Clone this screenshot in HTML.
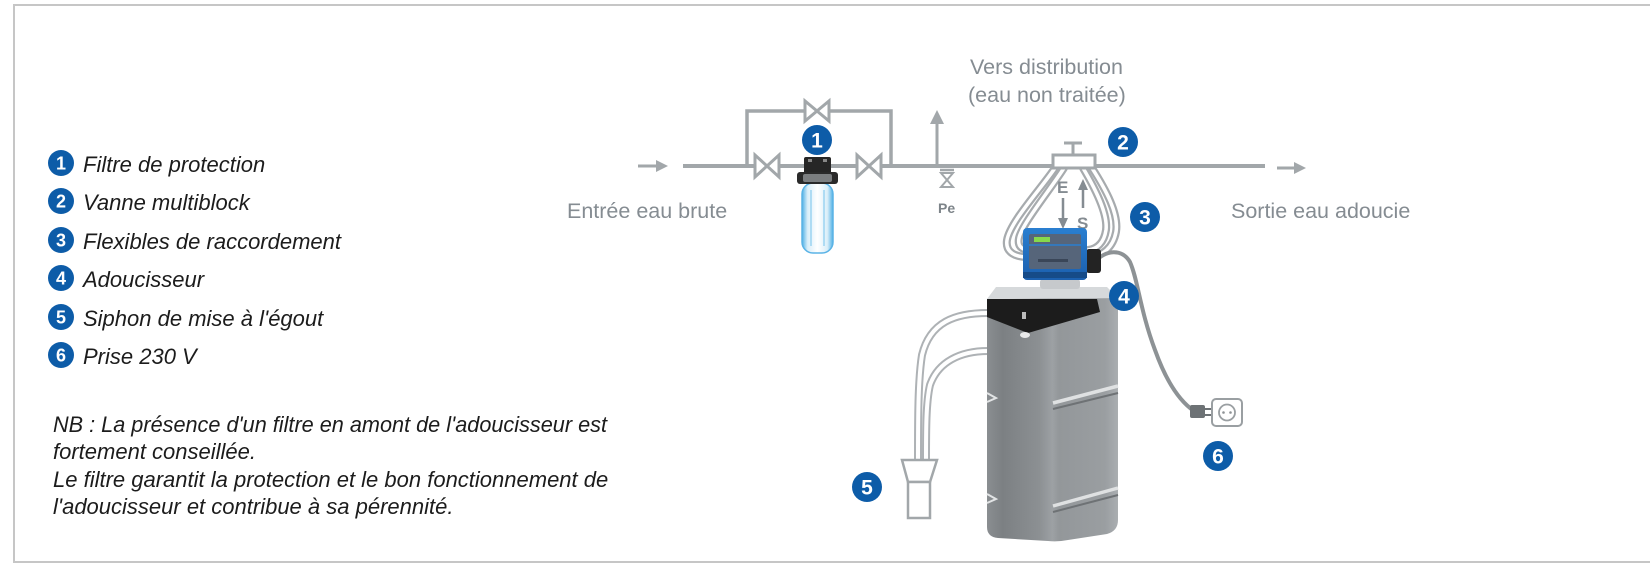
<!DOCTYPE html>
<html>
<head>
<meta charset="utf-8">
<style>
  html, body { margin:0; padding:0; background:#fff; }
  body { width:1650px; height:570px; overflow:hidden; position:relative; }
  svg { position:absolute; left:0; top:0; }
  text { font-family: "Liberation Sans", Arial, sans-serif; }
</style>
</head>
<body>
<svg width="1650" height="570" viewBox="0 0 1650 570" xmlns="http://www.w3.org/2000/svg">
  <defs>
    <linearGradient id="tankG" x1="0" y1="0" x2="1" y2="0">
      <stop offset="0" stop-color="#8a8e91"/>
      <stop offset="0.12" stop-color="#7c8083"/>
      <stop offset="0.4" stop-color="#8c9093"/>
      <stop offset="0.5" stop-color="#9da1a4"/>
      <stop offset="0.55" stop-color="#93979a"/>
      <stop offset="0.9" stop-color="#9a9ea1"/>
      <stop offset="1" stop-color="#aaaeb1"/>
    </linearGradient>
    <linearGradient id="filterG" x1="0" y1="0" x2="1" y2="0">
      <stop offset="0" stop-color="#4fb0e6"/>
      <stop offset="0.18" stop-color="#d9eef9"/>
      <stop offset="0.5" stop-color="#ffffff"/>
      <stop offset="0.82" stop-color="#d9eef9"/>
      <stop offset="1" stop-color="#4fb0e6"/>
    </linearGradient>
    <linearGradient id="headG" x1="0" y1="0" x2="0" y2="1">
      <stop offset="0" stop-color="#2a7fd0"/>
      <stop offset="1" stop-color="#1b5fae"/>
    </linearGradient>
  </defs>

  <!-- frame -->
  <rect x="14" y="5" width="1700" height="557" fill="none" stroke="#c6c6c6" stroke-width="2"/>

  <!-- ===== Legend ===== -->
  <g fill="#0d5ca8">
    <circle cx="61" cy="163" r="13"/>
    <circle cx="61" cy="201" r="13"/>
    <circle cx="61" cy="240" r="13"/>
    <circle cx="61" cy="278" r="13"/>
    <circle cx="61" cy="317" r="13"/>
    <circle cx="61" cy="355" r="13"/>
  </g>
  <g fill="#fff" font-weight="bold" font-size="18" text-anchor="middle">
    <text x="61" y="169.5">1</text>
    <text x="61" y="207.5">2</text>
    <text x="61" y="246.5">3</text>
    <text x="61" y="284.5">4</text>
    <text x="61" y="323.5">5</text>
    <text x="61" y="361.5">6</text>
  </g>
  <g fill="#1c1c1c" font-style="italic" font-size="22">
    <text x="83" y="172">Filtre de protection</text>
    <text x="83" y="210">Vanne multiblock</text>
    <text x="83" y="249">Flexibles de raccordement</text>
    <text x="83" y="287">Adoucisseur</text>
    <text x="83" y="326">Siphon de mise à l'égout</text>
    <text x="83" y="364">Prise 230 V</text>
  </g>
  <g fill="#1c1c1c" font-style="italic" font-size="22">
    <text x="53" y="432" textLength="554" lengthAdjust="spacingAndGlyphs">NB : La présence d'un filtre en amont de l'adoucisseur est</text>
    <text x="53" y="459">fortement conseillée.</text>
    <text x="53" y="487">Le filtre garantit la protection et le bon fonctionnement de</text>
    <text x="53" y="514">l'adoucisseur et contribue à sa pérennité.</text>
  </g>

  <!-- ===== Piping ===== -->
  <g stroke="#a2a7aa" fill="none">
    <line x1="638" y1="166" x2="658" y2="166" stroke-width="3"/>
    <line x1="683" y1="166" x2="1265" y2="166" stroke-width="4"/>
    <polyline points="747,166 747,111 891,111 891,166" stroke-width="3.5"/>
    <line x1="1277" y1="168" x2="1296" y2="168" stroke-width="3"/>
    <line x1="937" y1="166" x2="937" y2="122" stroke-width="3"/>
    <line x1="940" y1="170" x2="954" y2="170" stroke-width="2.5"/>
  </g>
  <g fill="#a2a7aa">
    <polygon points="656,160 668,166 656,172"/>
    <polygon points="1294,162 1306,168 1294,174"/>
    <polygon points="930,124 937,110 944,124"/>
  </g>
  <!-- valves -->
  <g fill="#fff" stroke="#a2a7aa" stroke-width="3" stroke-linejoin="miter">
    <polygon points="755,155 755,177 767,166"/>
    <polygon points="779,155 779,177 767,166"/>
    <polygon points="857,155 857,177 869,166"/>
    <polygon points="881,155 881,177 869,166"/>
    <polygon points="805,101 805,121 817,111"/>
    <polygon points="829,101 829,121 817,111"/>
    <polygon points="941,173 953,173 947,180" stroke-width="2"/>
    <polygon points="941,187 953,187 947,180" stroke-width="2"/>
  </g>

  <!-- Filter -->
  <rect x="802" y="183" width="31" height="70" rx="11" fill="url(#filterG)" stroke="#5ab3e6" stroke-width="1.5"/>
  <line x1="811" y1="190" x2="811" y2="246" stroke="#9bd3f1" stroke-width="1.5"/>
  <line x1="824" y1="190" x2="824" y2="246" stroke="#9bd3f1" stroke-width="1.5"/>
  <rect x="804" y="157" width="27" height="17" rx="2" fill="#262626"/>
  <rect x="797" y="172" width="41" height="12" rx="3" fill="#2a2a2a"/>
  <rect x="803" y="174" width="29" height="8" rx="2" fill="#7b7e80"/>
  <rect x="808" y="159" width="4" height="3" fill="#888"/>
  <rect x="823" y="159" width="4" height="3" fill="#888"/>

  <!-- labels -->
  <g fill="#858c92" font-size="21.5">
    <text x="567" y="218">Entrée eau brute</text>
    <text x="1231" y="218">Sortie eau adoucie</text>
    <text x="970" y="74">Vers distribution</text>
    <text x="968" y="102">(eau non traitée)</text>
  </g>
  <text x="938" y="213" fill="#7d8489" font-size="14" font-weight="bold">Pe</text>

  <!-- multiblock -->
  <line x1="1073" y1="143" x2="1073" y2="155" stroke="#a2a7aa" stroke-width="3"/>
  <line x1="1064" y1="143" x2="1082" y2="143" stroke="#a2a7aa" stroke-width="3"/>

  <!-- hoses (3) -->
  <g fill="none" stroke-linecap="round">
    <g stroke="#a7abae" stroke-width="8">
      <path d="M1055,168 C1040,190 1010,222 1007,240 C1005,253 1016,257 1028,257"/>
      <path d="M1064,168 C1050,190 1022,224 1019,238 C1017,248 1024,250 1030,250"/>
      <path d="M1092,168 C1106,190 1119,214 1116,232 C1113,248 1102,256 1090,257"/>
      <path d="M1083,168 C1096,190 1108,214 1106,230 C1104,243 1097,249 1088,250"/>
    </g>
    <g stroke="#ffffff" stroke-width="3.5">
      <path d="M1055,168 C1040,190 1010,222 1007,240 C1005,253 1016,257 1028,257"/>
      <path d="M1064,168 C1050,190 1022,224 1019,238 C1017,248 1024,250 1030,250"/>
      <path d="M1092,168 C1106,190 1119,214 1116,232 C1113,248 1102,256 1090,257"/>
      <path d="M1083,168 C1096,190 1108,214 1106,230 C1104,243 1097,249 1088,250"/>
    </g>
  </g>
  <rect x="1053" y="155" width="42" height="13" fill="#fff" stroke="#a2a7aa" stroke-width="3"/>

  <!-- E / S arrows -->
  <g fill="#858c92" font-size="17" font-weight="bold">
    <text x="1057" y="193">E</text>
    <text x="1077" y="229">S</text>
  </g>
  <line x1="1063" y1="198" x2="1063" y2="220" stroke="#858c92" stroke-width="2.5"/>
  <polygon points="1058,218 1068,218 1063,229" fill="#858c92"/>
  <line x1="1083" y1="208" x2="1083" y2="188" stroke="#858c92" stroke-width="2.5"/>
  <polygon points="1078,190 1088,190 1083,179" fill="#858c92"/>

  <!-- brine hoses (5) -->
  <g fill="none">
    <g stroke="#aeb2b5" stroke-width="8">
      <path d="M988,313 C955,313 930,322 922,355 C918,380 918,420 918,460"/>
      <path d="M988,351 C960,351 938,362 930,385 C926,402 926,430 926,460"/>
    </g>
    <g stroke="#ffffff" stroke-width="4">
      <path d="M988,313 C955,313 930,322 922,355 C918,380 918,420 918,460"/>
      <path d="M988,351 C960,351 938,362 930,385 C926,402 926,430 926,460"/>
    </g>
  </g>
  <!-- funnel -->
  <path d="M902,460 L937,460 L930,482 L908,482 Z" fill="#fff" stroke="#a2a7aa" stroke-width="2.5"/>
  <rect x="908" y="482" width="22" height="36" fill="#fff" stroke="#a2a7aa" stroke-width="2.5"/>

  <!-- tank -->
  <path d="M987,299 L1118,298 L1118,520 Q1118,531 1107,534 L1068,540 Q1058,542 1048,541 L998,538 Q987,537 987,527 Z" fill="url(#tankG)"/>
  <g fill="none">
    <path d="M1053,403 L1118,386" stroke="#dfe1e2" stroke-width="3.5"/>
    <path d="M1053,409 L1118,393" stroke="#6e7275" stroke-width="2"/>
    <path d="M1053,506 L1118,488" stroke="#dfe1e2" stroke-width="3.5"/>
    <path d="M1053,512 L1118,495" stroke="#6e7275" stroke-width="2"/>
    <path d="M987,393 L996,398 L987,402" stroke="#e2e4e5" stroke-width="2"/>
    <path d="M987,494 L996,499 L987,503" stroke="#e2e4e5" stroke-width="2"/>
  </g>
  <polygon points="996,287 1107,287 1118,298 987,299" fill="#d6d9db"/>
  <polygon points="987,299 1097,299 1100,312 1028,333 987,317" fill="#1c1c1c"/>
  <ellipse cx="1025" cy="335" rx="5" ry="3" fill="#e9eaeb"/>
  <rect x="1022" y="312" width="4" height="7" fill="#bbbbbb"/>

  <!-- power cable -->
  <path d="M1095,262 C1105,250 1122,248 1130,262 C1138,280 1140,310 1155,350 C1165,378 1178,400 1194,411" fill="none" stroke="#8d9295" stroke-width="4"/>
  <rect x="1190" y="405" width="15" height="13" rx="2" fill="#6d7275"/>
  <line x1="1205" y1="409" x2="1212" y2="409" stroke="#6d7275" stroke-width="2"/>
  <line x1="1205" y1="415" x2="1212" y2="415" stroke="#6d7275" stroke-width="2"/>
  <rect x="1212" y="399" width="30" height="27" rx="4" fill="#fff" stroke="#9a9fa2" stroke-width="2"/>
  <circle cx="1227" cy="412.5" r="8" fill="none" stroke="#9a9fa2" stroke-width="1.8"/>
  <circle cx="1223.5" cy="412.5" r="1.3" fill="#8d9295"/>
  <circle cx="1230.5" cy="412.5" r="1.3" fill="#8d9295"/>

  <!-- control head -->
  <rect x="1040" y="279" width="40" height="10" rx="3" fill="#c6c9cc"/>
  <rect x="1086" y="249" width="15" height="24" rx="3" fill="#232323"/>
  <rect x="1023" y="228" width="64" height="52" rx="4" fill="url(#headG)"/>
  <rect x="1029" y="234" width="52" height="35" rx="2" fill="#56657a"/>
  <line x1="1029" y1="245" x2="1081" y2="245" stroke="#2a7fd0" stroke-width="1.5"/>
  <rect x="1034" y="237" width="16" height="5" fill="#86d94c"/>
  <rect x="1038" y="259" width="30" height="3" fill="#3a4658"/>
  <rect x="1023" y="272" width="64" height="6" fill="#164b88"/>

  <!-- diagram number circles -->
  <g fill="#0d5ca8">
    <circle cx="817" cy="140" r="15"/>
    <circle cx="1123" cy="142" r="15"/>
    <circle cx="1145" cy="217" r="15"/>
    <circle cx="1124" cy="296" r="15"/>
    <circle cx="867" cy="487" r="15"/>
    <circle cx="1218" cy="456" r="15"/>
  </g>
  <g fill="#fff" font-weight="bold" font-size="21" text-anchor="middle">
    <text x="817" y="147.5">1</text>
    <text x="1123" y="149.5">2</text>
    <text x="1145" y="224.5">3</text>
    <text x="1124" y="303.5">4</text>
    <text x="867" y="494.5">5</text>
    <text x="1218" y="463.5">6</text>
  </g>
</svg>
</body>
</html>
